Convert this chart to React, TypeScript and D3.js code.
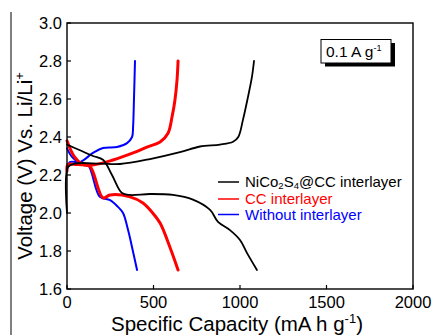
import * as d3 from "d3";
import { useRef, useEffect } from "react";

// capacity (mA h g-1), voltage (V)
const blackDischarge: [number, number][] = [
  [0, 2.36], [75, 2.33], [150, 2.3], [208, 2.28], [260, 2.2], [318, 2.105], [364, 2.095],
  [480, 2.1], [613, 2.095], [728, 2.07], [827, 2.016], [873, 1.953], [942, 1.91],
  [1000, 1.858], [1040, 1.79], [1098, 1.7],
];
const blackCharge: [number, number][] = [
  [0, 2.0], [5, 2.24], [46, 2.26], [190, 2.26], [306, 2.258], [480, 2.284], [653, 2.32],
  [769, 2.35], [884, 2.36], [960, 2.375], [990, 2.4], [1017, 2.49], [1046, 2.61],
  [1069, 2.716], [1081, 2.8],
];
const redDischarge: [number, number][] = [
  [0, 2.38], [40, 2.3], [90, 2.255], [133, 2.245], [208, 2.08], [249, 2.095], [364, 2.085],
  [439, 2.053], [491, 2.005], [538, 1.947], [595, 1.82], [642, 1.7],
];
const redCharge: [number, number][] = [
  [0, 2.22], [5, 2.255], [60, 2.255], [150, 2.253], [266, 2.279], [382, 2.316], [462, 2.347],
  [538, 2.374], [584, 2.42], [607, 2.505], [624, 2.595], [636, 2.7], [642, 2.8],
];
const blueDischarge: [number, number][] = [
  [0, 2.34], [29, 2.295], [75, 2.26], [121, 2.253], [190, 2.085], [249, 2.068], [295, 2.032],
  [324, 2.0], [353, 1.91], [376, 1.82], [405, 1.7],
];
const blueCharge: [number, number][] = [
  [0, 2.22], [17, 2.268], [75, 2.268], [150, 2.316], [208, 2.342], [289, 2.347], [347, 2.368],
  [376, 2.4], [382, 2.453], [387, 2.595], [393, 2.8],
];

const xTicks = [0, 500, 1000, 1500, 2000];
const yTicks = [1.6, 1.8, 2.0, 2.2, 2.4, 2.6, 2.8, 3.0];

const series = [
  { name: "NiCo2S4@CC interlayer", color: "#000000", width: 1.8, curves: [blackDischarge, blackCharge] },
  { name: "CC interlayer", color: "#ff0000", width: 3, curves: [redDischarge, redCharge] },
  { name: "Without interlayer", color: "#0000ff", width: 2, curves: [blueDischarge, blueCharge] },
];
const legendBaselines = [187, 204, 219.5];

export default function App() {
  const svgRef = useRef<SVGSVGElement | null>(null);

  useEffect(() => {
    if (!svgRef.current) return;
    const svg = d3.select(svgRef.current);
    svg.selectAll("*").remove();

    const left = 67, right = 413, top = 23, bottom = 289;
    const font = "'Liberation Sans', Arial, sans-serif";

    const x = d3.scaleLinear().domain([0, 2000]).range([left, right]);
    const y = d3.scaleLinear().domain([1.6, 3.0]).range([bottom, top]);

    // stray border line on the left of the figure
    svg.append("line")
      .attr("x1", 11).attr("x2", 11).attr("y1", 12).attr("y2", 335)
      .attr("stroke", "#000").attr("stroke-width", 1);

    const line = d3.line<[number, number]>()
      .x((d) => x(d[0]))
      .y((d) => y(d[1]))
      .curve(d3.curveCatmullRom.alpha(0.5));

    // curves, blue first so red/black sit on top
    [...series].reverse().forEach((s) => {
      s.curves.forEach((c) => {
        svg.append("path")
          .attr("d", line(c) as string)
          .attr("fill", "none")
          .attr("stroke", s.color)
          .attr("stroke-width", s.width)
          .attr("stroke-linejoin", "round")
          .attr("stroke-linecap", "round");
      });
    });

    // frame
    svg.append("rect")
      .attr("x", left).attr("y", top)
      .attr("width", right - left).attr("height", bottom - top)
      .attr("fill", "none").attr("stroke", "#000").attr("stroke-width", 1.4);

    // ticks (inside)
    svg.append("g").selectAll("line").data(yTicks).join("line")
      .attr("x1", left).attr("x2", left + 4)
      .attr("y1", (d) => y(d)).attr("y2", (d) => y(d))
      .attr("stroke", "#000").attr("stroke-width", 1.2);
    svg.append("g").selectAll("line").data(xTicks).join("line")
      .attr("x1", (d) => x(d)).attr("x2", (d) => x(d))
      .attr("y1", bottom).attr("y2", bottom - 4)
      .attr("stroke", "#000").attr("stroke-width", 1.2);

    // tick labels
    svg.append("g").selectAll("text").data(yTicks).join("text")
      .attr("x", left - 5).attr("y", (d) => y(d) + 5.5)
      .attr("text-anchor", "end")
      .attr("font-family", font).attr("font-size", 16.5)
      .text((d) => d.toFixed(1));
    svg.append("g").selectAll("text").data(xTicks).join("text")
      .attr("x", (d) => x(d)).attr("y", 308)
      .attr("text-anchor", "middle")
      .attr("font-family", font).attr("font-size", 16.5)
      .text((d) => d);

    // axis titles
    const xt = svg.append("text")
      .attr("x", 237).attr("y", 331)
      .attr("text-anchor", "middle")
      .attr("font-family", font).attr("font-size", 20.5);
    xt.append("tspan").text("Specific Capacity (mA h g");
    xt.append("tspan").attr("dy", -8).attr("font-size", 13).text("-1");
    xt.append("tspan").attr("dy", 8).text(")");

    const yt = svg.append("text")
      .attr("transform", `translate(32,166) rotate(-90)`)
      .attr("text-anchor", "middle")
      .attr("font-family", font).attr("font-size", 20.5);
    yt.append("tspan").text("Voltage (V) Vs. Li/Li");
    yt.append("tspan").attr("dy", -8).attr("font-size", 13).text("+");

    // legend
    const legend = svg.append("g");
    series.forEach((s, i) => {
      const by = legendBaselines[i];
      legend.append("line")
        .attr("x1", 218).attr("x2", 239)
        .attr("y1", by - 5).attr("y2", by - 5)
        .attr("stroke", s.color).attr("stroke-width", 1.5);
      const t = legend.append("text")
        .attr("x", 245).attr("y", by)
        .attr("font-family", font).attr("font-size", 15)
        .attr("fill", s.color);
      if (i === 0) {
        t.append("tspan").text("NiCo");
        t.append("tspan").attr("dy", 2).attr("font-size", 9.5).text("2");
        t.append("tspan").attr("dy", -2).text("S");
        t.append("tspan").attr("dy", 2).attr("font-size", 9.5).text("4");
        t.append("tspan").attr("dy", -2).text("@CC interlayer");
      } else {
        t.text(s.name);
      }
    });

    // current density box
    svg.append("rect")
      .attr("x", 325).attr("y", 43).attr("width", 70).attr("height", 23.5)
      .attr("fill", "#000");
    svg.append("rect")
      .attr("x", 321).attr("y", 39.5).attr("width", 70).attr("height", 23.5)
      .attr("fill", "#fff").attr("stroke", "#000").attr("stroke-width", 1);
    const bt = svg.append("text")
      .attr("x", 326).attr("y", 57)
      .attr("font-family", font).attr("font-size", 15.5);
    bt.append("tspan").text("0.1 A g");
    bt.append("tspan").attr("dy", -6).attr("font-size", 9).text("-1");
  }, []);

  return (
    <svg
      ref={svgRef}
      width={435}
      height={335}
      style={{ position: "absolute", left: 0, top: 0, background: "#fff" }}
    />
  );
}
